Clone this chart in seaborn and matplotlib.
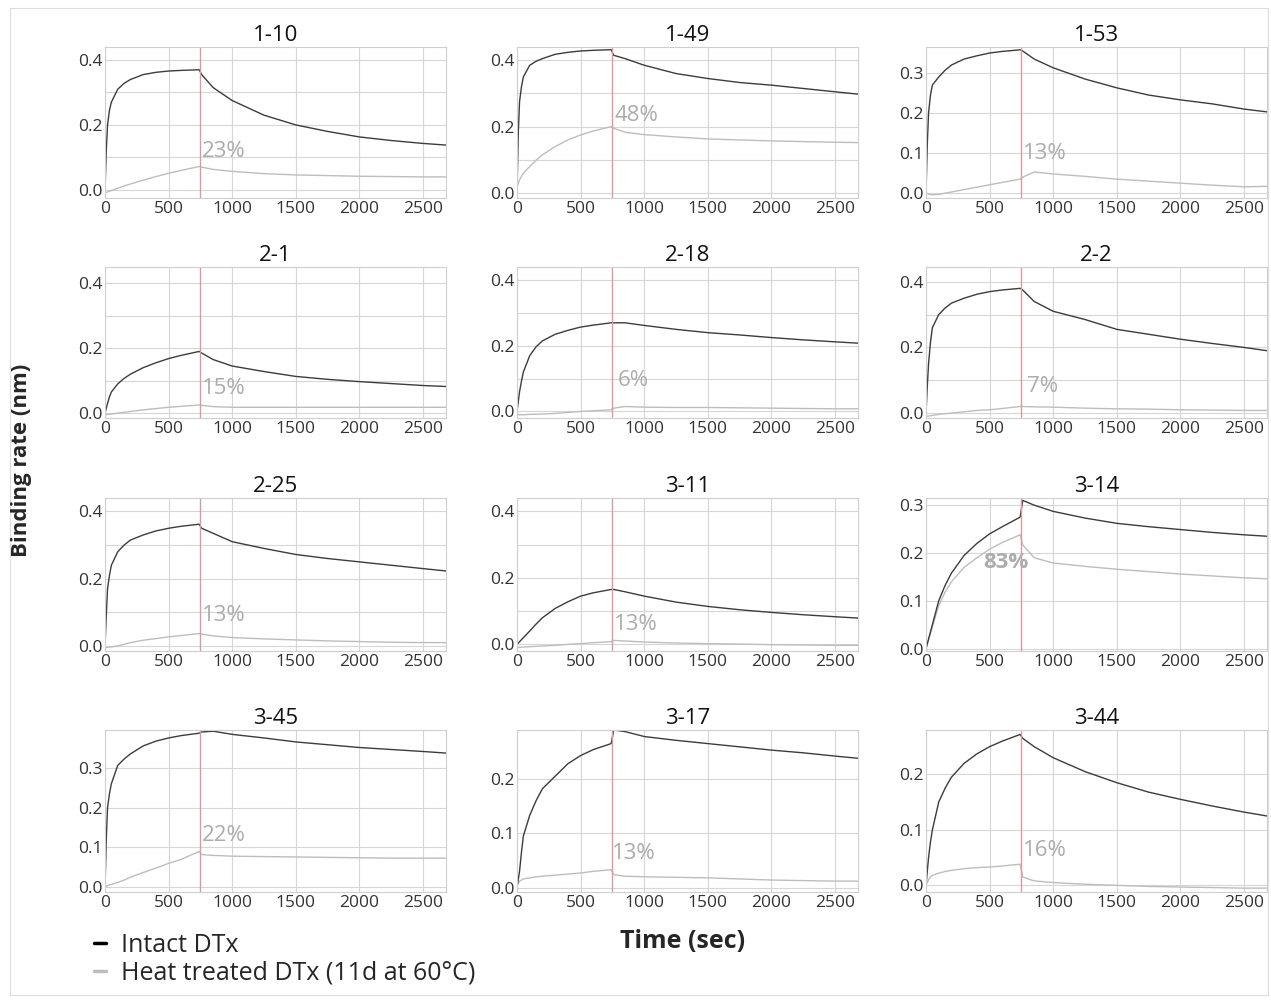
import numpy as np
import pandas as pd
import matplotlib
matplotlib.use("Agg")
import matplotlib.pyplot as plt
from matplotlib.lines import Line2D
from matplotlib.patches import Rectangle
import seaborn as sns

# %% datos
time = [0, 10, 20, 35, 50, 100, 150, 200, 300, 400, 500, 600, 740, 760, 850, 1000, 1250, 1500, 1750, 2000, 2250, 2500, 2680]

panels = ["1-10", "1-49", "1-53", "2-1", "2-18", "2-2", "2-25", "3-11", "3-14", "3-45", "3-17", "3-44"]
percents = ["23%", "48%", "13%", "15%", "6%", "7%", "13%", "13%", "83%", "22%", "13%", "16%"]

i_1_10 = [0.0, 0.12, 0.20, 0.245, 0.27, 0.31, 0.328, 0.34, 0.355, 0.362, 0.366, 0.368, 0.37, 0.355, 0.315, 0.275, 0.23, 0.20, 0.18, 0.163, 0.152, 0.143, 0.138]
h_1_10 = [-0.01, -0.008, -0.006, -0.004, -0.002, 0.005, 0.012, 0.018, 0.03, 0.041, 0.051, 0.06, 0.072, 0.07, 0.063, 0.057, 0.05, 0.046, 0.044, 0.042, 0.041, 0.04, 0.04]
i_1_49 = [0.0, 0.18, 0.275, 0.32, 0.35, 0.385, 0.397, 0.405, 0.418, 0.424, 0.428, 0.43, 0.432, 0.415, 0.405, 0.385, 0.36, 0.345, 0.333, 0.325, 0.315, 0.305, 0.298]
h_1_49 = [0.018, 0.03, 0.04, 0.05, 0.06, 0.08, 0.099, 0.115, 0.14, 0.16, 0.175, 0.187, 0.2, 0.195, 0.183, 0.176, 0.169, 0.163, 0.16, 0.157, 0.155, 0.153, 0.152]
i_1_53 = [0.0, 0.12, 0.2, 0.245, 0.27, 0.29, 0.307, 0.32, 0.335, 0.343, 0.35, 0.354, 0.358, 0.355, 0.335, 0.313, 0.285, 0.263, 0.245, 0.233, 0.223, 0.21, 0.203]
h_1_53 = [0.0, -0.001, -0.002, -0.003, -0.004, -0.003, 0.0, 0.003, 0.009, 0.015, 0.021, 0.027, 0.035, 0.04, 0.053, 0.048, 0.042, 0.035, 0.03, 0.025, 0.02, 0.016, 0.017]
i_2_1 = [0.0, 0.015, 0.03, 0.05, 0.065, 0.09, 0.107, 0.12, 0.14, 0.155, 0.168, 0.178, 0.19, 0.185, 0.165, 0.145, 0.128, 0.113, 0.104, 0.097, 0.091, 0.085, 0.082]
h_2_1 = [-0.005, -0.0045, -0.004, -0.0035, -0.003, 0.0, 0.0025, 0.005, 0.01, 0.014, 0.018, 0.021, 0.025, 0.024, 0.02, 0.018, 0.018, 0.018, 0.018, 0.018, 0.018, 0.018, 0.018]
i_2_18 = [0.0, 0.03, 0.06, 0.092, 0.12, 0.17, 0.197, 0.215, 0.235, 0.247, 0.257, 0.263, 0.27, 0.27, 0.27, 0.262, 0.25, 0.24, 0.233, 0.225, 0.218, 0.212, 0.208]
h_2_18 = [-0.01, -0.01, -0.01, -0.01, -0.01, -0.009, -0.0085, -0.008, -0.006, -0.003, 0.0, 0.002, 0.005, 0.01, 0.015, 0.013, 0.012, 0.012, 0.011, 0.01, 0.009, 0.008, 0.008]
i_2_2 = [0.0, 0.08, 0.15, 0.215, 0.26, 0.3, 0.32, 0.335, 0.35, 0.362, 0.37, 0.375, 0.38, 0.375, 0.34, 0.31, 0.285, 0.255, 0.24, 0.225, 0.212, 0.2, 0.19]
h_2_2 = [-0.01, -0.0095, -0.009, -0.008, -0.007, -0.004, -0.002, 0.0, 0.004, 0.008, 0.01, 0.014, 0.02, 0.02, 0.019, 0.018, 0.015, 0.013, 0.012, 0.01, 0.009, 0.008, 0.008]
i_2_25 = [0.0, 0.09, 0.17, 0.21, 0.24, 0.28, 0.3, 0.315, 0.33, 0.342, 0.35, 0.356, 0.362, 0.35, 0.335, 0.31, 0.29, 0.272, 0.26, 0.25, 0.24, 0.23, 0.223]
h_2_25 = [-0.005, -0.0045, -0.004, -0.0035, -0.003, 0.0, 0.005, 0.01, 0.017, 0.022, 0.027, 0.031, 0.037, 0.035, 0.03, 0.025, 0.021, 0.018, 0.015, 0.013, 0.011, 0.01, 0.01]
i_3_11 = [0.0, 0.004, 0.008, 0.014, 0.02, 0.04, 0.061, 0.08, 0.108, 0.128, 0.145, 0.155, 0.165, 0.165, 0.158, 0.145, 0.127, 0.114, 0.104, 0.096, 0.089, 0.083, 0.079]
h_3_11 = [-0.01, -0.0095, -0.009, -0.0085, -0.008, -0.007, -0.006, -0.005, -0.003, 0.0, 0.002, 0.005, 0.008, 0.012, 0.01, 0.007, 0.004, 0.002, 0.001, -0.001, -0.002, -0.003, -0.003]
i_3_14 = [0.0, 0.01, 0.02, 0.035, 0.05, 0.1, 0.132, 0.158, 0.195, 0.22, 0.24, 0.255, 0.275, 0.31, 0.3, 0.287, 0.273, 0.262, 0.255, 0.249, 0.243, 0.238, 0.235]
h_3_14 = [0.0, 0.009, 0.018, 0.032, 0.045, 0.09, 0.118, 0.14, 0.17, 0.19, 0.208, 0.222, 0.238, 0.217, 0.19, 0.179, 0.172, 0.166, 0.161, 0.156, 0.152, 0.148, 0.146]
i_3_45 = [0.0, 0.12, 0.2, 0.235, 0.26, 0.306, 0.322, 0.335, 0.355, 0.367, 0.375, 0.381, 0.387, 0.39, 0.392, 0.384, 0.375, 0.365, 0.358, 0.351, 0.346, 0.341, 0.337]
h_3_45 = [0.0, 0.002, 0.004, 0.006, 0.007, 0.012, 0.018, 0.025, 0.037, 0.048, 0.06, 0.07, 0.09, 0.082, 0.08, 0.078, 0.077, 0.076, 0.075, 0.074, 0.073, 0.073, 0.073]
i_3_17 = [0.0, 0.015, 0.03, 0.065, 0.095, 0.133, 0.16, 0.182, 0.205, 0.228, 0.243, 0.254, 0.265, 0.29, 0.287, 0.278, 0.271, 0.265, 0.259, 0.253, 0.248, 0.242, 0.238]
h_3_17 = [0.005, 0.009, 0.012, 0.014, 0.016, 0.018, 0.02, 0.021, 0.023, 0.025, 0.027, 0.03, 0.033, 0.024, 0.021, 0.02, 0.019, 0.018, 0.016, 0.014, 0.013, 0.012, 0.012]
i_3_44 = [0.0, 0.025, 0.05, 0.078, 0.1, 0.15, 0.175, 0.195, 0.22, 0.237, 0.25, 0.26, 0.272, 0.265, 0.25, 0.23, 0.205, 0.185, 0.168, 0.155, 0.143, 0.132, 0.125]
h_3_44 = [0.0, 0.005, 0.01, 0.015, 0.018, 0.022, 0.025, 0.027, 0.03, 0.032, 0.033, 0.035, 0.038, 0.015, 0.008, 0.005, 0.002, 0.0, -0.002, -0.003, -0.004, -0.005, -0.005]

intact = [i_1_10, i_1_49, i_1_53, i_2_1, i_2_18, i_2_2, i_2_25, i_3_11, i_3_14, i_3_45, i_3_17, i_3_44]
heat = [h_1_10, h_1_49, h_1_53, h_2_1, h_2_18, h_2_2, h_2_25, h_3_11, h_3_14, h_3_45, h_3_17, h_3_44]

# %% limites y posiciones por panel
ylims = [(-0.025, 0.44), (-0.015, 0.44), (-0.012, 0.365), (-0.015, 0.45), (-0.02, 0.44), (-0.015, 0.445),
         (-0.015, 0.44), (-0.02, 0.44), (-0.005, 0.315), (-0.012, 0.395), (-0.008, 0.29), (-0.012, 0.28)]
yticks = [[0, 0.2, 0.4], [0, 0.2, 0.4], [0, 0.1, 0.2, 0.3], [0, 0.2, 0.4], [0, 0.2, 0.4], [0, 0.2, 0.4],
          [0, 0.2, 0.4], [0, 0.2, 0.4], [0, 0.1, 0.2, 0.3], [0, 0.1, 0.2, 0.3], [0, 0.1, 0.2], [0, 0.1, 0.2]]
pct_pos = [(760, 0.117), (770, 0.235), (760, 0.1), (760, 0.075), (790, 0.095), (790, 0.08),
           (760, 0.09), (760, 0.06), (450, 0.18), (760, 0.13), (745, 0.062), (760, 0.062)]
red_line = 745

# %% estilo
sns.set_style("whitegrid")
plt.rcParams['font.family'] = ['Open Sans', 'DejaVu Sans']

fig = plt.figure(figsize=(12.71, 10), dpi=100)

col_left = [105, 517, 926]
col_width = 341
row_box = [(47, 198), (267, 418), (498, 651), (730, 892)]

for k, name in enumerate(panels):
    r, c = divmod(k, 3)
    top, bot = row_box[r]
    ax = fig.add_axes([col_left[c] / 1271, 1 - bot / 1000, col_width / 1271, (bot - top) / 1000])

    sns.lineplot(x=time, y=heat[k], ax=ax, color='#bdbdbd', linewidth=1.0)
    sns.lineplot(x=time, y=intact[k], ax=ax, color='#3c3c3c', linewidth=1.0)
    ax.axvline(red_line, color='#d99aa5', linewidth=1.0)

    ax.set_xlim(0, 2680)
    ax.set_ylim(*ylims[k])
    ax.set_xticks([0, 500, 1000, 1500, 2000, 2500])
    ax.set_yticks(yticks[k])
    ax.set_yticks(np.arange(0, ylims[k][1], 0.1), minor=True)
    ax.set_yticklabels([f"{v:.1f}" for v in yticks[k]])
    ax.grid(True, which='both', color='#d6d6d6', linewidth=0.8)
    ax.tick_params(which='both', length=0, labelsize=12.5, colors='#333333', pad=2)
    for s in ax.spines.values():
        s.set_color('#cfcfcf')
        s.set_linewidth(0.8)
    ax.set_title(name, fontsize=16, pad=4, color='#111111')
    ax.set_xlabel('')
    ax.set_ylabel('')

    px, py = pct_pos[k]
    bold = 'bold' if name == '3-14' else 'normal'
    ax.text(px, py, percents[k], fontsize=16, color='#acacac', va='center', ha='left', fontweight=bold)

fig.text(0.017, 0.54, 'Binding rate (nm)', rotation=90, fontsize=16, fontweight='bold',
         va='center', ha='center')
fig.text(0.537, 0.059, 'Time (sec)', fontsize=18, fontweight='bold', va='center', ha='center')

handles = [Line2D([0], [0], color='black', linewidth=2.5),
           Line2D([0], [0], color='#bdbdbd', linewidth=2.5)]
fig.legend(handles, ['Intact DTx', 'Heat treated DTx (11d at 60°C)'], loc='upper left',
           bbox_to_anchor=(0.066, 0.077), frameon=False, fontsize=18, handlelength=0.5,
           handletextpad=0.6, labelspacing=0.1, borderaxespad=0)

fig.patches.append(Rectangle((0.008, 0.005), 0.99, 0.987, transform=fig.transFigure,
                             fill=False, edgecolor='#dddddd', linewidth=0.8))

fig.savefig('out.png', dpi=100, facecolor='white')
